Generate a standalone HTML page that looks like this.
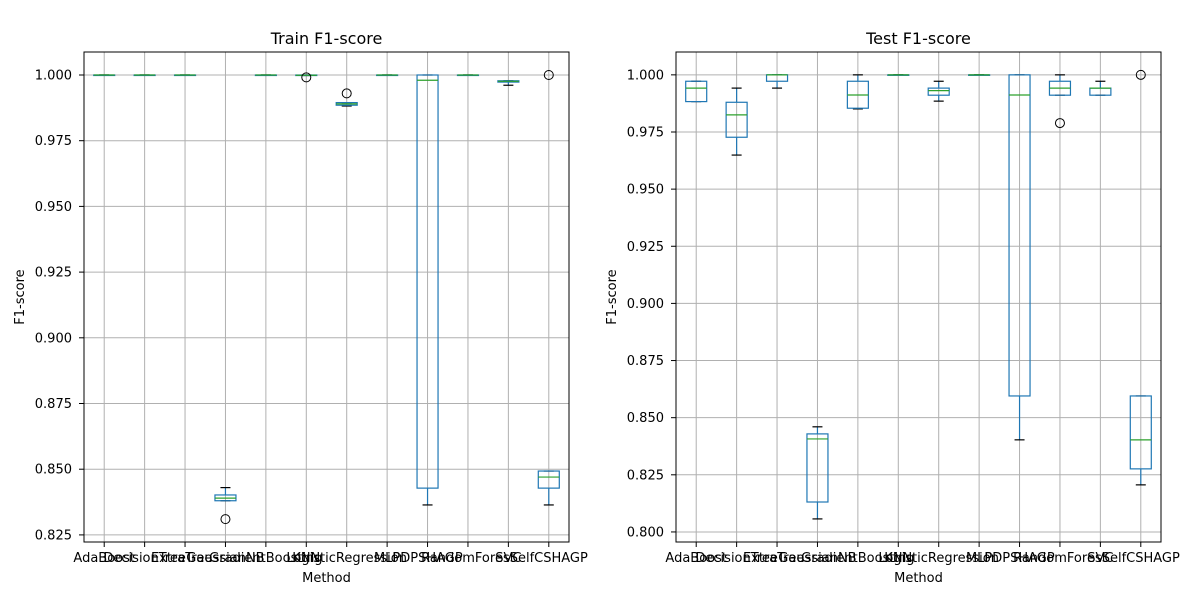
<!DOCTYPE html>
<html><head><meta charset="utf-8"><style>
html,body{margin:0;padding:0;background:#fff;}
svg{display:block;font-family:"DejaVu Sans","Liberation Sans",sans-serif;}
</style></head><body>
<svg id="chart" width="1200" height="600"></svg>
<script>
const categories=["AdaBoost","DecisionTree","ExtraTrees","GaussianNB","GradientBoosting","KNN","LogisticRegression","MLP","PDPSHAGP","RandomForest","SVC","SelfCSHAGP"];
// [low whisker, Q1, median, Q3, high whisker]
const trainStats=[[1,1,1,1,1],[1,1,1,1,1],[1,1,1,1,1],[0.838,0.838,0.839,0.8402,0.843],[1,1,1,1,1],[0.9998,0.9998,0.9999,1,1],[0.9882,0.9885,0.989,0.9895,0.9895],[1,1,1,1,1],[0.8364,0.8428,0.998,1,1],[1,1,1,1,1],[0.9961,0.9973,0.9976,0.9978,0.9978],[0.8364,0.8428,0.847,0.8493,0.8493]];
const trainOutliers=[[],[],[],[0.831],[],[0.9991],[0.993],[],[],[],[],[1.0]];
const testStats=[[0.9883,0.9883,0.9942,0.9972,0.9972],[0.9649,0.9727,0.9825,0.988,0.9942],[0.9942,0.9972,1,1,1],[0.8057,0.8131,0.8407,0.8429,0.846],[0.9851,0.9854,0.9912,0.9972,1],[1,1,1,1,1],[0.9885,0.9911,0.9931,0.9942,0.9972],[1,1,1,1,1],[0.8403,0.8595,0.9912,1,1],[0.9911,0.9911,0.9942,0.9972,1],[0.9911,0.9911,0.9942,0.9942,0.9972],[0.8206,0.8276,0.8403,0.8595,0.8595]];
const testOutliers=[[],[],[],[],[],[],[],[],[],[0.9789],[],[1.0]];
const trainTicks=[0.825,0.850,0.875,0.900,0.925,0.950,0.975,1.000];
const testTicks=[0.800,0.825,0.850,0.875,0.900,0.925,0.950,0.975,1.000];

const NS="http://www.w3.org/2000/svg";
const svg=document.getElementById('chart');
function mk(tag,attrs,parent){const e=document.createElementNS(NS,tag);for(const k in attrs)e.setAttribute(k,attrs[k]);(parent||svg).appendChild(e);return e;}

function panel(name,title,L,R,T,B,ymin,ymax,ticks,stats,outs){
  const g=mk('g',{});
  
  
  const y=v=>B-(v-ymin)/(ymax-ymin)*(B-T);
  const step=(R-L)/categories.length;
  const x=i=>L+step*(i+0.5);
  ticks.forEach(t=>{
    const ln=mk('line',{x1:L,x2:R,y1:y(t),y2:y(t),stroke:'#b0b0b0','stroke-width':1},g);
    
    
    mk('line',{x1:L-5,x2:L,y1:y(t),y2:y(t),stroke:'#000'},g);
    const tx=mk('text',{x:L-12,y:y(t)+4.5,'text-anchor':'end','font-size':13,fill:'#000'},g);
    tx.textContent=t.toFixed(3);
    
    
  });
  categories.forEach((c,i)=>{
    mk('line',{x1:x(i),x2:x(i),y1:T,y2:B,stroke:'#b0b0b0','stroke-width':1},g);
    mk('line',{x1:x(i),x2:x(i),y1:B,y2:B+5,stroke:'#000'},g);
    const tx=mk('text',{x:x(i),y:B+20,'text-anchor':'middle','font-size':13,fill:'#000'},g);
    tx.textContent=c;
    
    
  });
  const bw=21,cw=10;
  stats.forEach((s,i)=>{
    const bg=mk('g',{},g);
    
    
    const cx=x(i);
    mk('line',{x1:cx,x2:cx,y1:y(s[0]),y2:y(s[1]),stroke:'#1f77b4','stroke-width':1.2},bg);
    mk('line',{x1:cx,x2:cx,y1:y(s[3]),y2:y(s[4]),stroke:'#1f77b4','stroke-width':1.2},bg);
    mk('line',{x1:cx-cw/2,x2:cx+cw/2,y1:y(s[0]),y2:y(s[0]),stroke:'#000','stroke-width':1.2},bg);
    mk('line',{x1:cx-cw/2,x2:cx+cw/2,y1:y(s[4]),y2:y(s[4]),stroke:'#000','stroke-width':1.2},bg);
    mk('rect',{x:cx-bw/2,y:y(s[3]),width:bw,height:Math.max(0.5,y(s[1])-y(s[3])),fill:'none',stroke:'#1f77b4','stroke-width':1.2},bg);
    mk('line',{x1:cx-bw/2,x2:cx+bw/2,y1:y(s[2]),y2:y(s[2]),stroke:'#2ca02c','stroke-width':1.2},bg);
    outs[i].forEach(o=>{
      const c=mk('circle',{cx:cx,cy:y(o),r:4.5,fill:'none',stroke:'#000','stroke-width':1},bg);
      
      
    });
  });
  mk('rect',{x:L,y:T,width:R-L,height:B-T,fill:'none',stroke:'#000','stroke-width':1},g);
  const tt=mk('text',{x:(L+R)/2,y:T-8,'text-anchor':'middle','font-size':16,fill:'#000'},g);
  tt.textContent=title;
  
  
  const xl=mk('text',{x:(L+R)/2,y:B+40,'text-anchor':'middle','font-size':13,fill:'#000'},g);
  xl.textContent='Method';
  
  
  const yl=mk('text',{x:0,y:0,'text-anchor':'middle','font-size':13,fill:'#000',transform:`translate(${L-60},${(T+B)/2}) rotate(-90)`},g);
  yl.textContent='F1-score';
  
  
}
panel('train-panel','Train F1-score',84,569,52,542,0.8223,1.00875,trainTicks,trainStats,trainOutliers);
panel('test-panel','Test F1-score',676,1161,52,542,0.7956,1.01,testTicks,testStats,testOutliers);
</script>
</body></html>
